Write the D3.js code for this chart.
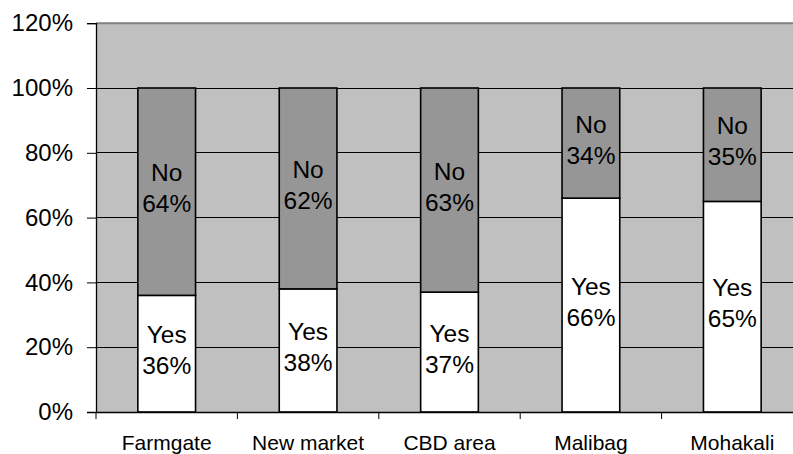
<!DOCTYPE html>
<html><head><meta charset="utf-8">
<script src="https://cdn.jsdelivr.net/npm/d3@7"></script>
<style>
html,body{margin:0;padding:0;background:#fff;overflow:hidden}
svg{display:block;font-family:"Liberation Sans",Arial,sans-serif}
</style></head>
<body>
<svg id="chart" width="793" height="454"></svg>
<script>
const categories = ["Farmgate", "New market", "CBD area", "Malibag", "Mohakali"];
const yesValues = [0.36, 0.38, 0.37, 0.66, 0.65];
const noValues  = [0.64, 0.62, 0.63, 0.34, 0.35];
const yTicks = [0, 0.2, 0.4, 0.6, 0.8, 1.0, 1.2];

const svg = d3.select("#chart");
const pLeft = 96, pRight = 803, pTop = 23.2, pBottom = 412;

const x = d3.scaleBand().domain(categories).range([pLeft, pRight]).paddingInner(0.592).paddingOuter(0.296);
const xb = d3.scaleBand().domain(categories).range([pLeft, pRight]);
const y = d3.scaleLinear().domain([0, 1.2]).range([pBottom, pTop]);

svg.append("rect").attr("x", pLeft).attr("y", pTop).attr("width", pRight - pLeft).attr("height", pBottom - pTop)
  .attr("fill", "#c0c0c0");
svg.append("line").attr("x1", pLeft).attr("x2", pRight).attr("y1", y(1.2)).attr("y2", y(1.2))
  .attr("stroke", "#808080").attr("stroke-width", 2);

svg.append("g").selectAll("line").data(yTicks.filter(d => d > 0 && d < 1.2)).join("line")
  .attr("x1", pLeft).attr("x2", pRight).attr("y1", d => y(d)).attr("y2", d => y(d))
  .attr("stroke", "#000").attr("stroke-width", 1).attr("shape-rendering", "crispEdges");

const data = categories.map((c, i) => ({c, yes: yesValues[i], no: noValues[i]}));

const g = svg.append("g");
g.selectAll("rect.yes").data(data).join("rect").attr("class", "yes")
  .attr("x", d => x(d.c)).attr("width", x.bandwidth())
  .attr("y", d => y(d.yes)).attr("height", d => y(0) - y(d.yes))
  .attr("fill", "#fff").attr("stroke", "#000").attr("stroke-width", 1.6);
g.selectAll("rect.no").data(data).join("rect").attr("class", "no")
  .attr("x", d => x(d.c)).attr("width", x.bandwidth())
  .attr("y", d => y(d.yes + d.no)).attr("height", d => y(d.yes) - y(d.yes + d.no))
  .attr("fill", "#969696").attr("stroke", "#000").attr("stroke-width", 1.6);

function addLabel(sel, word, valKey, centerFn) {
  const t = sel.append("text").attr("text-anchor", "middle").attr("font-size", 24.5).attr("fill", "#000");
  t.append("tspan").attr("x", d => x(d.c) + x.bandwidth() / 2).attr("y", d => centerFn(d) - 10.5).text(word);
  t.append("tspan").attr("x", d => x(d.c) + x.bandwidth() / 2).attr("y", d => centerFn(d) + 20.5)
    .text(d => Math.round(d[valKey] * 100) + "%");
}
const lg = svg.append("g");
lg.selectAll("g.ly").data(data).join("g").attr("class", "ly")
  .call(s => addLabel(s, "Yes", "yes", d => (y(0) + y(d.yes)) / 2));
lg.selectAll("g.ln").data(data).join("g").attr("class", "ln")
  .call(s => addLabel(s, "No", "no", d => (y(d.yes) + y(d.yes + d.no)) / 2));

const yAxis = svg.append("g").attr("transform", `translate(${pLeft},0)`)
  .call(d3.axisLeft(y).tickValues(yTicks).tickFormat(d3.format(".0%")).tickSize(9).tickPadding(14));
yAxis.select(".domain").attr("stroke", "#000").attr("stroke-width", 1.3);
yAxis.selectAll(".tick line").attr("stroke", "#000");
yAxis.selectAll("text").attr("font-size", 24).attr("font-family", "Liberation Sans, Arial, sans-serif").attr("fill", "#000");

const xAxis = svg.append("g").attr("transform", `translate(0,${pBottom})`)
  .call(d3.axisBottom(xb).tickSize(0).tickPadding(23));
xAxis.select(".domain").attr("stroke", "#000").attr("stroke-width", 1.3);
xAxis.selectAll("text").attr("font-size", 21).attr("font-family", "Liberation Sans, Arial, sans-serif").attr("fill", "#000");
svg.append("g").selectAll("line").data(categories.map(c => xb(c)).concat([pRight])).join("line")
  .attr("x1", d => d).attr("x2", d => d).attr("y1", pBottom).attr("y2", pBottom + 7)
  .attr("stroke", "#000").attr("stroke-width", 1);
</script>
</body></html>
